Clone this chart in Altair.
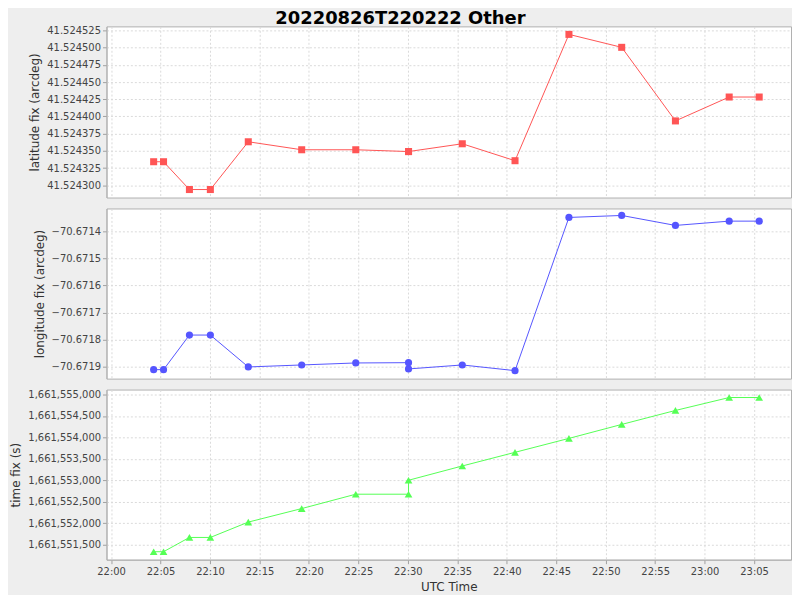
import altair as alt
import pandas as pd

# ---- data ----
utc_times = ["22:04:18", "22:05:18", "22:07:55", "22:10:02", "22:13:52", "22:19:16",
             "22:24:44", "22:30:04", "22:30:04", "22:35:30", "22:40:50", "22:46:17",
             "22:51:37", "22:57:03", "23:02:29", "23:05:31"]
latitude = [41.5243342, 41.5243342, 41.5242938, 41.5242938, 41.5243632, 41.5243516,
            41.5243516, 41.5243490, 41.5243490, 41.5243603, 41.5243357, 41.5245192,
            41.5245004, 41.5243935, 41.5244282, 41.5244282]
longitude = [-70.6719099, -70.6719099, -70.6717826, -70.6717826, -70.6719000, -70.6718927,
             -70.6718853, -70.6718842, -70.6719073, -70.6718927, -70.6719136, -70.6713497,
             -70.6713424, -70.6713791, -70.6713633, -70.6713633]
time_fix = [1661551331, 1661551331, 1661551664, 1661551664, 1661552022, 1661552338,
            1661552673, 1661552673, 1661552999, 1661553332, 1661553651, 1661553976,
            1661554302, 1661554628, 1661554930, 1661554930]

lat_ticks = [41.524300, 41.524325, 41.524350, 41.524375, 41.524400, 41.524425,
             41.524450, 41.524475, 41.524500, 41.524525]
lon_ticks = [-70.6719, -70.6718, -70.6717, -70.6716, -70.6715, -70.6714]
tfix_ticks = [1661551500, 1661552000, 1661552500, 1661553000, 1661553500,
              1661554000, 1661554500, 1661555000]
x_tick_labels = ["22:00", "22:05", "22:10", "22:15", "22:20", "22:25", "22:30", "22:35",
                 "22:40", "22:45", "22:50", "22:55", "23:00", "23:05"]

DAY = "2022-08-26T"


def ms(hms):
    return int(pd.Timestamp(DAY + hms, tz="UTC").value // 10**6)


df = pd.DataFrame({
    "idx": list(range(len(utc_times))),
    "t": [DAY + h + "Z" for h in utc_times],
    "lat": latitude,
    "lon": longitude,
    "tfix": time_fix,
})

x_domain = [ms("21:59:32"), ms("23:08:44")]
x_values = [ms(h + ":00") for h in x_tick_labels]

W = 688
FONT = "DejaVu Sans"


def panel(field, title, color, shape, size, ticks, fmt, domain, height, bottom):
    if bottom:
        xaxis = alt.Axis(values=x_values, format="%H:%M", title="UTC Time",
                         labelFlush=False, labelPadding=3, titlePadding=5)
    else:
        xaxis = alt.Axis(values=x_values, labels=False, ticks=False, domain=False,
                         title=None, minExtent=0, maxExtent=0)
    x = alt.X("t:T", scale=alt.Scale(type="utc", domain=x_domain), axis=xaxis)
    y = alt.Y(f"{field}:Q",
              scale=alt.Scale(domain=domain, zero=False, nice=False),
              axis=alt.Axis(values=ticks, format=fmt, title=title, titlePadding=5))
    base = alt.Chart(df).encode(x=x, y=y, order="idx:Q")
    line = base.mark_line(color=color, strokeWidth=1)
    pts = base.mark_point(shape=shape, filled=True, color=color, opacity=1, size=size)
    return alt.layer(line, pts).properties(width=W, height=height)


top = panel("lat", "latitude fix (arcdeg)", "#ff5555", "square", 50, lat_ticks, ".6f",
            [41.5242822, 41.5245308], 172, False)
mid = panel("lon", "longitude fix (arcdeg)", "#5555ff", "circle", 52, lon_ticks, ".4f",
            [-70.6719429, -70.6713167], 171, False)
bot = panel("tfix", "time fix (s)", "#55ff55", "triangle-up", 60, tfix_ticks, ",d",
            [1661551145, 1661555116], 171, True)

chart = alt.vconcat(top, mid, bot, spacing=9).properties(
    title=alt.TitleParams("20220826T220222 Other", font=FONT, fontSize=18,
                          fontWeight="bold", anchor="middle", offset=-3, color="#000000"),
    padding={"left": 1, "top": 0, "right": 0, "bottom": 0},
).configure(
    background="#eeeeee",
).configure_view(
    fill="#ffffff", stroke="#b0b0b0", strokeWidth=1,
).configure_axis(
    labelFont=FONT, labelFontSize=10, labelColor="#444444",
    titleFont=FONT, titleFontSize=12, titleFontWeight="normal", titleColor="#333333",
    gridColor="#dadada", gridDash=[2, 2], gridWidth=1,
    domainColor="#b0b0b0", tickColor="#a0a0a0", tickSize=4, labelPadding=2,
)

chart.save("out.html", embed_options={"renderer": "svg", "actions": False})
